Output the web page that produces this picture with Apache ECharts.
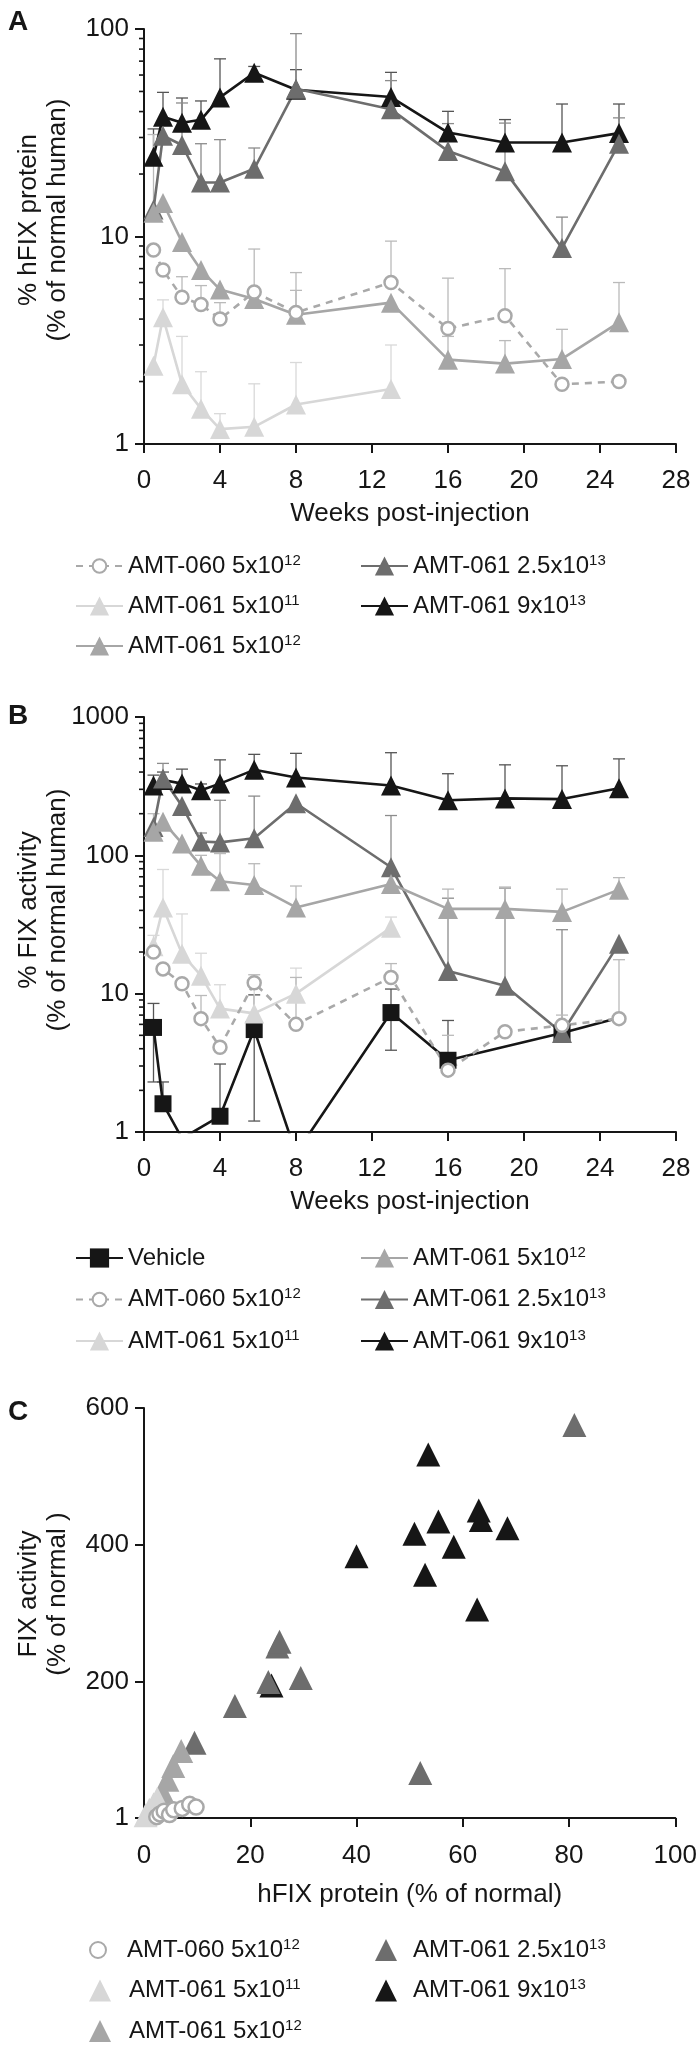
<!DOCTYPE html>
<html><head><meta charset="utf-8">
<script src="https://cdn.jsdelivr.net/npm/echarts@6/dist/echarts.min.js"></script>
<style>html,body{margin:0;padding:0;background:#fff}#c{width:700px;height:2055px}</style>
</head><body><div id="c"></div>
<script>
// ---------- DATA ----------
const weeks = [0.5, 1, 2, 3, 4, 5.8, 8, 13, 16, 19, 22, 25];
const xTicksWeeks = [0, 4, 8, 12, 16, 20, 24, 28];

// Panel A: % hFIX protein (mean, upper error)
const protA_060      = [8.6, 6.9, 5.1, 4.7, 4.0, 5.4, 4.3, 6.0, 3.6, 4.15, 1.94, 2.0];
const protA_060_hi   = [null, null, 6.4, 5.8, 4.8, 8.7, 6.7, 9.5, 6.3, 7.0, null, null];
const protA_5e11     = [2.38, 4.08, 1.94, 1.48, 1.18, 1.21, 1.55, 1.84, null, null, null, null];
const protA_5e11_hi  = [null, 4.95, 3.3, 2.23, 1.4, 1.95, 2.47, 3.0, null, null, null, null];
const protA_5e12     = [13.0, 14.5, 9.4, 6.9, 5.55, 5.0, 4.2, 4.8, 2.55, 2.44, 2.57, 3.86];
const protA_5e12_hi  = [31, null, null, null, null, null, 5.5, null, 3.3, 3.15, 3.57, 6.0];
const protA_25e13    = [13.5, 30.6, 27.6, 18.2, 18.2, 21.2, 51.5, 41, 25.8, 20.6, 8.8, 28];
const protA_25e13_hi = [null, null, 44, 28, 29.3, 26.7, 95, 56.4, 35, 35.2, 12.4, 37.3];
const protA_9e13     = [24.2, 37.8, 35.3, 36.5, 46.8, 61.5, 51, 47, 31.7, 28.4, 28.4, 31.5];
const protA_9e13_hi  = [33, 49.5, 46.5, 45, 71.8, 66, 63.7, 61.8, 40.1, 36.6, 43.5, 43.5];

// Panel B: % FIX activity (mean, upper error, lower error)
const actB_veh       = [5.7, 1.6, 0.9, null, 1.3, 5.5, 0.7, 7.3, 3.3, null, 5.2, 6.7];
const actB_veh_hi    = [8.5, 2.3, null, null, 3.1, 9.8, null, 10.8, 6.4, null, null, null];
const actB_veh_lo    = [2.3, null, null, null, null, 1.2, null, 3.9, null, null, null, null];
const actB_vehNoMarkerWeeks = [25];
const actB_060       = [20, 15.1, 11.8, 6.6, 4.1, 12, 6.0, 13.1, 2.8, 5.3, 5.9, 6.6];
const actB_060_hi    = [null, null, null, 9.7, null, 13.7, 13.1, 16.5, 5.0, null, 7.0, 17.6];
const actB_5e11      = [22, 42, 19.4, 13.5, 7.8, 7.2, 10, 30, null, null, null, null];
const actB_5e11_hi   = [26.4, 79, 37.7, 19.6, 11.6, 12.2, 15.3, 35.8, null, null, null, null];
const actB_5e12      = [148, 175, 122, 84, 65, 61, 42, 62, 41, 41, 39, 56.5];
const actB_5e12_hi   = [200, null, null, 100, 103, 87, 60, null, 57, 59, 57, 69];
const actB_25e13     = [160, 360, 227, 126, 124, 133, 238, 82, 14.6, 11.4, 5.2, 23];
const actB_25e13_hi  = [null, 462, null, 145, 250, 268, null, 194, 49, 58, 29, null];
const actB_9e13      = [320, 350, 330, 295, 330, 415, 365, 320, 250, 258, 255, 305];
const actB_9e13_hi   = [380, 400, 420, 328, 490, 537, 546, 552, 389, 451, 444, 498];

// Panel C: [hFIX protein %, FIX activity %]
const corr_060   = [[2.4,2],[3.0,6],[3.8,10],[4.8,5],[5.6,12],[7.2,14],[8.6,20],[9.8,16]];
const corr_5e11  = [[0.3,4],[1.0,12],[1.8,20],[2.5,28]];
const corr_5e12  = [[3.5,38],[4.4,56],[5.5,76],[7.0,98]];
const corr_25e13 = [[9.5,110],[17.1,164],[23.4,199],[25.1,251],[25.5,258],[29.5,205],[52,66],[81,575]];
const corr_9e13  = [[24,194],[40,383],[50.9,416],[52.9,356],[53.5,532],[55.4,434],[58.3,397],[62.7,305],[63,450],[63.4,436],[68.4,424]];
const corrXTicks = [0, 20, 40, 60, 80, 100];
const corrYTicks = [0, 200, 400, 600];
const corrYTickLabels = ['1', '200', '400', '600'];

// log-axis minor tick positions
const minorA = [2,3,4,5,6,7,8,9,20,30,40,50,60,70,80,90];
const minorB = [2,3,4,5,6,7,8,9,20,30,40,50,60,70,80,90,200,300,400,500,600,700,800,900];

const LBL = {
  veh: 'Vehicle', a060: 'AMT-060 5x10^12', d5e11: 'AMT-061 5x10^11',
  d5e12: 'AMT-061 5x10^12', d25: 'AMT-061 2.5x10^13', d9: 'AMT-061 9x10^13'
};

// ---------- STYLE ----------
const FONT = 'Liberation Sans, Arial, Helvetica, sans-serif';
const INK = '#161616';
const S = {
  veh:   {symbol:'rect',     size:17, fill:'#161616', line:'#161616', err:'#555555'},
  d9:    {symbol:'triangle', size:20, fill:'#161616', line:'#161616', err:'#555555'},
  d25:   {symbol:'triangle', size:20, fill:'#6d6d6d', line:'#6d6d6d', err:'#8c8c8c'},
  d5e12: {symbol:'triangle', size:20, fill:'#a6a6a6', line:'#a6a6a6', err:'#bababa'},
  d5e11: {symbol:'triangle', size:20, fill:'#d7d7d7', line:'#d7d7d7', err:'#d9d9d9'},
  a060:  {symbol:'circle',   size:13, fill:'#ffffff', border:'#a9a9a9', line:'#a9a9a9', dash:[7,6], err:'#bababa'}
};

function pairs(vals, hideWeeks) {
  const out = [];
  weeks.forEach((w, i) => {
    if (vals[i] == null) return;
    if (hideWeeks && hideWeeks.indexOf(w) >= 0) out.push({value:[w, vals[i]], symbol:'none'});
    else out.push([w, vals[i]]);
  });
  return out;
}

function lineSeries(panel, key, vals, idx, hideWeeks) {
  const s = S[key];
  return {
    type:'line', name: panel + ':' + LBL[key], xAxisIndex: idx, yAxisIndex: idx,
    data: pairs(vals, hideWeeks), symbol: s.symbol, symbolSize: s.size, z: 3,
    clip: true, animation: false,
    itemStyle: s.border ? {color: s.fill, borderColor: s.border, borderWidth: 2.5}
                        : {color: s.fill, borderWidth: 0},
    lineStyle: {color: s.line, width: 2.6, type: s.dash || 'solid'},
    emphasis: {disabled: true}
  };
}

function errSeries(key, vals, hi, lo, idx) {
  const data = [];
  weeks.forEach((w, i) => {
    if (vals[i] == null) return;
    const h = hi && hi[i] != null ? hi[i] : null;
    const l = lo && lo[i] != null ? lo[i] : null;
    if (h == null && l == null) return;
    data.push([w, vals[i], h == null ? vals[i] : h, l == null ? vals[i] : l]);
  });
  const color = S[key].err;
  return {
    type:'custom', xAxisIndex: idx, yAxisIndex: idx, clip: true, z: 2, silent: true,
    encode: {x: 0, y: 1}, data,
    renderItem(params, api) {
      const x = api.value(0), v = api.value(1), h = api.value(2), l = api.value(3);
      const ph = api.coord([x, h]), pl = api.coord([x, l]);
      const cw = 6;
      const st = {stroke: color, lineWidth: 1.3};
      const ch = [{type:'line', shape:{x1: ph[0], y1: pl[1], x2: ph[0], y2: ph[1]}, style: st}];
      if (h > v) ch.push({type:'line', shape:{x1: ph[0]-cw, y1: ph[1], x2: ph[0]+cw, y2: ph[1]}, style: st});
      if (l < v) ch.push({type:'line', shape:{x1: pl[0]-cw, y1: pl[1], x2: pl[0]+cw, y2: pl[1]}, style: st});
      return {type:'group', children: ch};
    }
  };
}

function minorSeries(list, idx) {
  return {
    type:'custom', xAxisIndex: idx, yAxisIndex: idx, clip: false, silent: true, z: 5,
    encode: {x: 0, y: 1}, data: list.map(v => [0, v]),
    renderItem(params, api) {
      const p = api.coord([0, api.value(1)]);
      return {type:'line', shape:{x1: p[0]-5, y1: p[1], x2: p[0], y2: p[1]}, style:{stroke: INK, lineWidth: 1.6}};
    }
  };
}

function scatterSeries(key, data, idx, size) {
  const s = S[key];
  return {
    type:'scatter', name: 'C:' + LBL[key], xAxisIndex: idx, yAxisIndex: idx, data,
    symbol: s.symbol, symbolSize: size, z: 3,
    itemStyle: s.border ? {color: '#ffffff', borderColor: s.border, borderWidth: 2.5, opacity: 1}
                        : {color: s.fill, opacity: 1},
    emphasis: {disabled: true}
  };
}

// ---------- AXES ----------
const TICK_FS = 26, TITLE_FS = 26, LEG_FS = 24, YT_FS = 26;
const axisLineStyle = {show: true, lineStyle: {color: INK, width: 2}};
const axisTickStyle = {show: true, length: 9, lineStyle: {color: INK, width: 2}};
const labelStyle = {fontFamily: FONT, fontSize: TICK_FS, color: INK};

function xWeeks(idx, gap) {
  return {
    type:'value', gridIndex: idx, min: xTicksWeeks[0], max: xTicksWeeks[xTicksWeeks.length-1], interval: 4,
    axisLine: axisLineStyle, axisTick: axisTickStyle, splitLine: {show: false},
    axisLabel: Object.assign({margin: 24}, labelStyle),
    name: 'Weeks post-injection', nameLocation: 'middle', nameGap: gap,
    nameTextStyle: {fontFamily: FONT, fontSize: TITLE_FS, color: INK}
  };
}
function yLog(idx, max) {
  return {
    type:'log', logBase: 10, gridIndex: idx, min: 1, max: max,
    axisLine: axisLineStyle, axisTick: axisTickStyle, splitLine: {show: false},
    minorTick: {show: false},
    axisLabel: Object.assign({margin: 15, formatter: v => String(Math.round(v))}, labelStyle)
  };
}

const fmt = name => {
  const s = name.slice(2);
  const m = s.match(/^(.*x10)\^(\d+)$/);
  return m ? m[1] + '{sup|' + m[2] + '}' : s;
};
function legend(names, left, top, gap, ih, iw, padL) {
  return {
    orient: 'vertical', left, top, itemWidth: iw || 47, itemHeight: ih, itemGap: gap,
    data: names, selectedMode: false, formatter: fmt, padding: 0,
    textStyle: {fontFamily: FONT, fontSize: LEG_FS, color: INK, lineHeight: 26,
      padding: [0, 0, 0, padL || 0],
      rich: {sup: {fontFamily: FONT, fontSize: 15, lineHeight: 15, verticalAlign: 'top', color: INK}}}
  };
}
const nm = (p, keys) => keys.map(k => p + ':' + LBL[k]);

function ytitle(lines, cx, cy) {
  return lines.map((t, i) => ({
    type:'text', x: cx[i], y: cy, rotation: Math.PI / 2,
    style: {text: t, fontFamily: FONT, fontSize: YT_FS, fill: INK, align: 'center', verticalAlign: 'middle'}
  }));
}
function letter(t, x, y) {
  return {type:'text', x, y, style:{text: t, fontFamily: FONT, fontWeight: 'bold', fontSize: 28, fill: INK, align:'left', verticalAlign:'middle'}};
}

const option = {
  animation: false,
  backgroundColor: '#ffffff',
  grid: [
    {left: 144, top: 29,   width: 532, height: 415},
    {left: 144, top: 717,  width: 532, height: 415},
    {left: 144, top: 1408, width: 532, height: 410}
  ],
  xAxis: [
    xWeeks(0, 57),
    xWeeks(1, 57),
    {
      type:'value', gridIndex: 2, min: corrXTicks[0], max: corrXTicks[corrXTicks.length-1], interval: 20,
      axisLine: axisLineStyle, axisTick: axisTickStyle, splitLine: {show: false},
      axisLabel: Object.assign({margin: 25}, labelStyle),
      name: 'hFIX protein (% of normal)', nameLocation: 'middle', nameGap: 64,
      nameTextStyle: {fontFamily: FONT, fontSize: TITLE_FS, color: INK}
    }
  ],
  yAxis: [
    yLog(0, 100),
    yLog(1, 1000),
    {
      type:'value', gridIndex: 2, min: corrYTicks[0], max: corrYTicks[corrYTicks.length-1], interval: 200,
      axisLine: axisLineStyle, axisTick: axisTickStyle, splitLine: {show: false},
      axisLabel: Object.assign({margin: 15, formatter: v => corrYTickLabels[corrYTicks.indexOf(v)]}, labelStyle)
    }
  ],
  legend: [
    legend(nm('A', ['a060']), 75, 553, 14, 17),
    legend(nm('A', ['d5e11','d5e12']), 75, 593, 14, 24),
    legend(nm('A', ['d25','d9']), 360, 553, 14, 24),
    legend(nm('B', ['veh']), 75, 1245, 15.5, 24),
    legend(nm('B', ['a060']), 75, 1286.5, 15.5, 17),
    legend(nm('B', ['d5e11']), 75, 1328, 15.5, 24),
    legend(nm('B', ['d5e12','d25','d9']), 360, 1245, 15.5, 24),
    legend(nm('C', ['a060']), 89, 1937, 14.5, 16, 22, 13),
    legend(nm('C', ['d5e11','d5e12']), 89, 1977.5, 14.5, 22, 22, 13),
    legend(nm('C', ['d25','d9']), 375, 1937, 14.5, 22, 22, 11)
  ],
  graphic: [].concat(
    ytitle(['% hFIX protein', '(% of normal human)'], [29, 58], 220),
    ytitle(['% FIX activity', '(% of normal human)'], [29, 58], 910),
    ytitle(['FIX activity', '(% of normal )'], [29, 58], 1594),
    [letter('A', 8, 22), letter('B', 8, 716), letter('C', 8, 1412)]
  ),
  series: [
    // error bars (below markers)
    errSeries('d9', protA_9e13, protA_9e13_hi, null, 0),
    errSeries('d25', protA_25e13, protA_25e13_hi, null, 0),
    errSeries('d5e12', protA_5e12, protA_5e12_hi, null, 0),
    errSeries('d5e11', protA_5e11, protA_5e11_hi, null, 0),
    errSeries('a060', protA_060, protA_060_hi, null, 0),
    errSeries('veh', actB_veh, actB_veh_hi, actB_veh_lo, 1),
    errSeries('d9', actB_9e13, actB_9e13_hi, null, 1),
    errSeries('d25', actB_25e13, actB_25e13_hi, null, 1),
    errSeries('d5e12', actB_5e12, actB_5e12_hi, null, 1),
    errSeries('d5e11', actB_5e11, actB_5e11_hi, null, 1),
    errSeries('a060', actB_060, actB_060_hi, null, 1),
    // panel A lines
    lineSeries('A', 'd9', protA_9e13, 0),
    lineSeries('A', 'd25', protA_25e13, 0),
    lineSeries('A', 'd5e12', protA_5e12, 0),
    lineSeries('A', 'd5e11', protA_5e11, 0),
    lineSeries('A', 'a060', protA_060, 0),
    // panel B lines
    lineSeries('B', 'veh', actB_veh, 1, actB_vehNoMarkerWeeks),
    lineSeries('B', 'd9', actB_9e13, 1),
    lineSeries('B', 'd25', actB_25e13, 1),
    lineSeries('B', 'd5e12', actB_5e12, 1),
    lineSeries('B', 'd5e11', actB_5e11, 1),
    lineSeries('B', 'a060', actB_060, 1),
    // panel C scatter
    scatterSeries('d9', corr_9e13, 2, 24),
    scatterSeries('d25', corr_25e13, 2, 24),
    scatterSeries('d5e12', corr_5e12, 2, 24),
    scatterSeries('d5e11', corr_5e11, 2, 24),
    scatterSeries('a060', corr_060, 2, 15),
    // minor ticks on log axes
    minorSeries(minorA, 0),
    minorSeries(minorB, 1)
  ]
};

const chart = echarts.init(document.getElementById('c'), null, {renderer: 'canvas'});
chart.setOption(option);
</script>
</body></html>
